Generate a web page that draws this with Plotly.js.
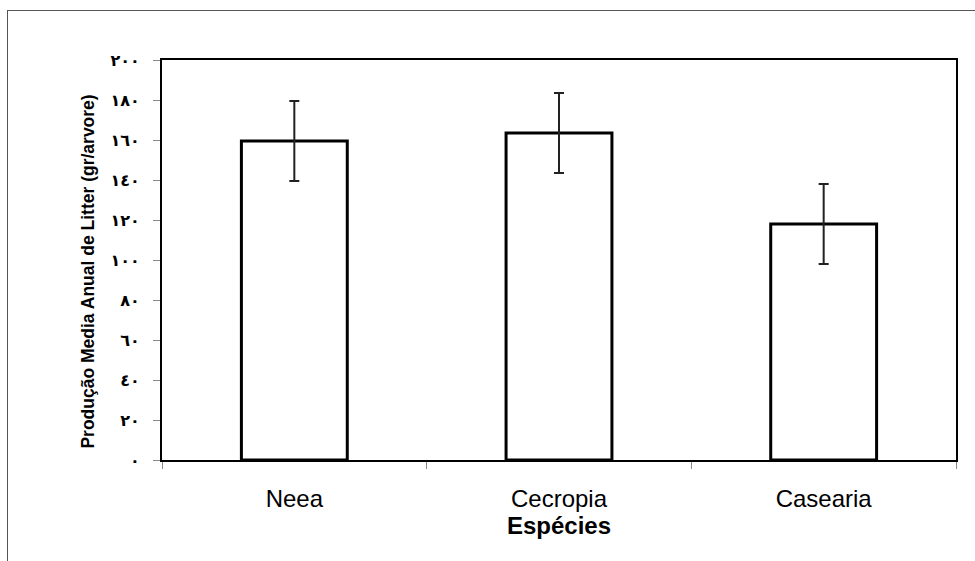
<!DOCTYPE html>
<html>
<head>
<meta charset="utf-8">
<script src="https://cdn.plot.ly/plotly-3.0.1.min.js"></script>
<style>
  html, body { margin: 0; padding: 0; background: #fff; }
  #wrap { position: relative; width: 975px; height: 561px; }
  #chart { position: absolute; left: 0; top: 0; width: 975px; height: 561px; }
  #frame { position: absolute; left: 7px; top: 10px; width: 975px; height: 561px;
           border-top: 1px solid #555; border-left: 1px solid #555; pointer-events: none; }
</style>
</head>
<body>
<div id="wrap">
  <div id="chart"></div>
  <div id="frame"></div>
</div>
<script>
const species = ["Neea", "Cecropia", "Casearia"];
const meanLitter = [159.5, 163.5, 118];
const errLitter = [20, 20, 20];
const yTickVals = [0, 20, 40, 60, 80, 100, 120, 140, 160, 180, 200];
const yTickText = ["٠", "٢٠", "٤٠", "٦٠", "٨٠", "١٠٠", "١٢٠", "١٤٠", "١٦٠", "١٨٠", "٢٠٠"];
const yTitle = "Produção Media Anual de Litter (gr/arvore)";

const trace = {
  type: "bar",
  x: species,
  y: meanLitter,
  width: 0.4,
  marker: { color: "#ffffff", line: { color: "#000000", width: 3 } },
  error_y: { type: "data", array: errLitter, visible: true, color: "#222222", thickness: 2, width: 5 },
  hoverinfo: "none"
};

const layout = {
  width: 975,
  height: 561,
  margin: { l: 162, r: 19, t: 60, b: 101 },
  paper_bgcolor: "#ffffff",
  plot_bgcolor: "#ffffff",
  showlegend: false,
  font: { family: "Liberation Sans, Arial, sans-serif", color: "#000" },
  xaxis: {
    type: "category",
    tickson: "boundaries",
    ticks: "outside",
    ticklen: 7,
    tickcolor: "#888",
    tickwidth: 1,
    showline: true,
    linecolor: "#000",
    linewidth: 2,
    mirror: true,
    showgrid: false,
    tickfont: { size: 24, family: "Liberation Sans, Arial, sans-serif", color: "#000" },
    ticklabelstandoff: 16,
    title: { text: "<b>Espécies</b>", font: { size: 24, family: "Liberation Sans, Arial, sans-serif", color: "#000" }, standoff: 0 }
  },
  yaxis: {
    range: [0, 200],
    tickmode: "array",
    tickvals: yTickVals,
    ticktext: yTickText,
    ticks: "outside",
    ticklen: 7,
    tickcolor: "#888",
    tickwidth: 1,
    showline: true,
    linecolor: "#000",
    linewidth: 2,
    mirror: true,
    showgrid: false,
    zeroline: false,
    tickfont: { size: 16, weight: "bold", family: "DejaVu Sans, sans-serif", color: "#000" },
    ticklabelstandoff: 10
  },
  annotations: [{
    text: "<b>" + yTitle + "</b>",
    xref: "paper", yref: "paper",
    x: -0.0932, y: 0.471,
    xanchor: "center", yanchor: "middle",
    textangle: -90,
    showarrow: false,
    font: { size: 17.5, family: "Liberation Sans, Arial, sans-serif", color: "#000" }
  }]
};

Plotly.newPlot("chart", [trace], layout, { staticPlot: true, displayModeBar: false });
</script>
</body>
</html>
